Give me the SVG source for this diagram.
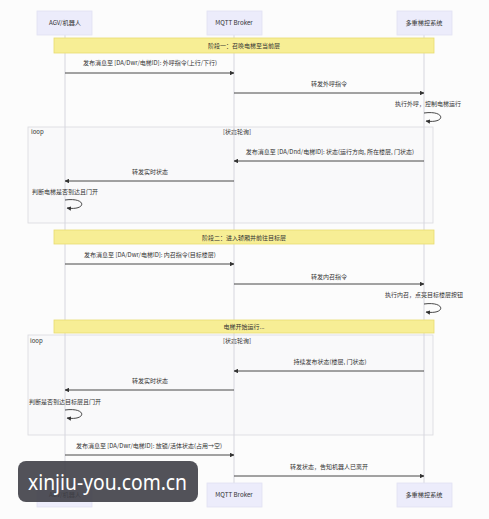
<svg xmlns="http://www.w3.org/2000/svg" width="489" height="519" viewBox="0 0 489 519">
<defs>
<marker id="ah" viewBox="0 0 10 10" refX="9" refY="5" markerWidth="5" markerHeight="5" orient="auto-start-reverse">
<path d="M0,0 L10,5 L0,10 z" fill="#333"/>
</marker>
<style>
text{font-family:"Noto Sans CJK SC","Noto Sans",sans-serif;fill:#333;}
.actor rect{fill:#ececfb;stroke:#e2e2f2;stroke-width:0.8;}
.actor text{font-size:6.2px;text-anchor:middle;}
.life{stroke:#d6d6de;stroke-width:1;}
.note rect{fill:#f7ee95;stroke:#e8dc70;stroke-width:0.8;}
.note text{font-size:6px;text-anchor:middle;}
.msg{stroke:#333;stroke-width:0.9;fill:none;marker-end:url(#ah);}
.lbl{font-size:6px;text-anchor:middle;}
.loopbox{fill:#f9f9fa;stroke:#dadade;stroke-width:0.8;}
.looptxt{font-size:6px;}
</style>
</defs>
<rect width="489" height="519" fill="#fcfcfc"/>

<g id="loop1">
<rect class="loopbox" x="28" y="127" width="405" height="96"/>
<text class="looptxt" x="31" y="134">loop</text>
<text class="looptxt" x="237" y="134" text-anchor="middle">[状态轮询]</text>
</g>
<g id="loop2">
<rect class="loopbox" x="28" y="335" width="405" height="100"/>
<text class="looptxt" x="30" y="343">loop</text>
<text class="looptxt" x="237" y="343" text-anchor="middle">[状态轮询]</text>
</g>

<g id="lifelines">
<line class="life" x1="65" y1="35" x2="65" y2="483"/>
<line class="life" x1="234" y1="35" x2="234" y2="483"/>
<line class="life" x1="424" y1="35" x2="424" y2="483"/>
</g>

<g id="actor-agv" class="actor">
<rect x="37" y="11" width="55" height="24"/>
<text x="65" y="25">AGV/机器人</text>
<rect x="37" y="483" width="55" height="24"/>
<text x="65" y="497">AGV/机器人</text>
</g>
<g id="actor-mqtt" class="actor">
<rect x="207" y="11" width="55" height="24"/>
<text x="234" y="25">MQTT Broker</text>
<rect x="207" y="483" width="55" height="24"/>
<text x="234" y="497">MQTT Broker</text>
</g>
<g id="actor-elev" class="actor">
<rect x="397" y="11" width="55" height="24"/>
<text x="424" y="25">多重梯控系统</text>
<rect x="397" y="483" width="55" height="24"/>
<text x="424" y="497">多重梯控系统</text>
</g>

<g id="note1" class="note">
<rect x="54" y="38" width="380" height="15"/>
<text x="244" y="48">阶段一：召唤电梯至当前层</text>
</g>
<g id="note2" class="note">
<rect x="54" y="230" width="380" height="14"/>
<text x="244" y="239.5">阶段二：进入轿厢并前往目标层</text>
</g>
<g id="note3" class="note">
<rect x="54" y="320" width="380" height="13"/>
<text x="244" y="329">电梯开始运行...</text>
</g>

<g id="connectors">
<line class="msg" x1="65" y1="73" x2="234" y2="73"/>
<line class="msg" x1="234" y1="93" x2="424" y2="93"/>
<path class="msg" d="M424,113 C446,110 446,124 426,121"/>
<line class="msg" x1="424" y1="161" x2="234" y2="161"/>
<line class="msg" x1="234" y1="181" x2="65" y2="181"/>
<path class="msg" d="M65,200 C87,197 87,211 67,208"/>
<line class="msg" x1="65" y1="264" x2="234" y2="264"/>
<line class="msg" x1="234" y1="284" x2="424" y2="284"/>
<path class="msg" d="M424,304 C446,301 446,315 426,312"/>
<line class="msg" x1="424" y1="371" x2="234" y2="371"/>
<line class="msg" x1="234" y1="390" x2="65" y2="390"/>
<path class="msg" d="M65,410 C87,407 87,421 67,418"/>
<line class="msg" x1="65" y1="455" x2="234" y2="455"/>
<line class="msg" x1="234" y1="476" x2="424" y2="476"/>
</g>

<g id="labels">
<text class="lbl" x="150" y="65">发布消息至 [DA/Dwr/电梯ID]: 外呼指令(上行/下行)</text>
<text class="lbl" x="329" y="86">转发外呼指令</text>
<text class="lbl" x="428" y="106">执行外呼，控制电梯运行</text>
<text class="lbl" x="330" y="154">发布消息至 [DA/Dnd/电梯ID]: 状态(运行方向, 所在楼层, 门状态)</text>
<text class="lbl" x="150" y="174">转发实时状态</text>
<text class="lbl" x="65" y="194">判断电梯是否到达且门开</text>
<text class="lbl" x="150" y="257">发布消息至 [DA/Dwr/电梯ID]: 内召指令(目标楼层)</text>
<text class="lbl" x="329" y="279">转发内召指令</text>
<text class="lbl" x="424" y="297">执行内召，点亮目标楼层按钮</text>
<text class="lbl" x="330" y="364">持续发布状态(楼层, 门状态)</text>
<text class="lbl" x="150" y="383">转发实时状态</text>
<text class="lbl" x="65" y="404">判断是否到达目标层且门开</text>
<text class="lbl" x="149" y="448">发布消息至 [DA/Dwr/电梯ID]: 放锁/活体状态(占用→空)</text>
<text class="lbl" x="329" y="469">转发状态，告知机器人已离开</text>
</g>

<g id="watermark">
<rect x="18" y="461" width="180" height="41" rx="8" fill="#3f3f47" fill-opacity="0.9"/>
<text x="28" y="490" style="font-family:'Noto Sans','Open Sans',sans-serif;font-size:21px;fill:#ffffff;" textLength="159" lengthAdjust="spacingAndGlyphs">xinjiu-you.com.cn</text>
</g>
</svg>
